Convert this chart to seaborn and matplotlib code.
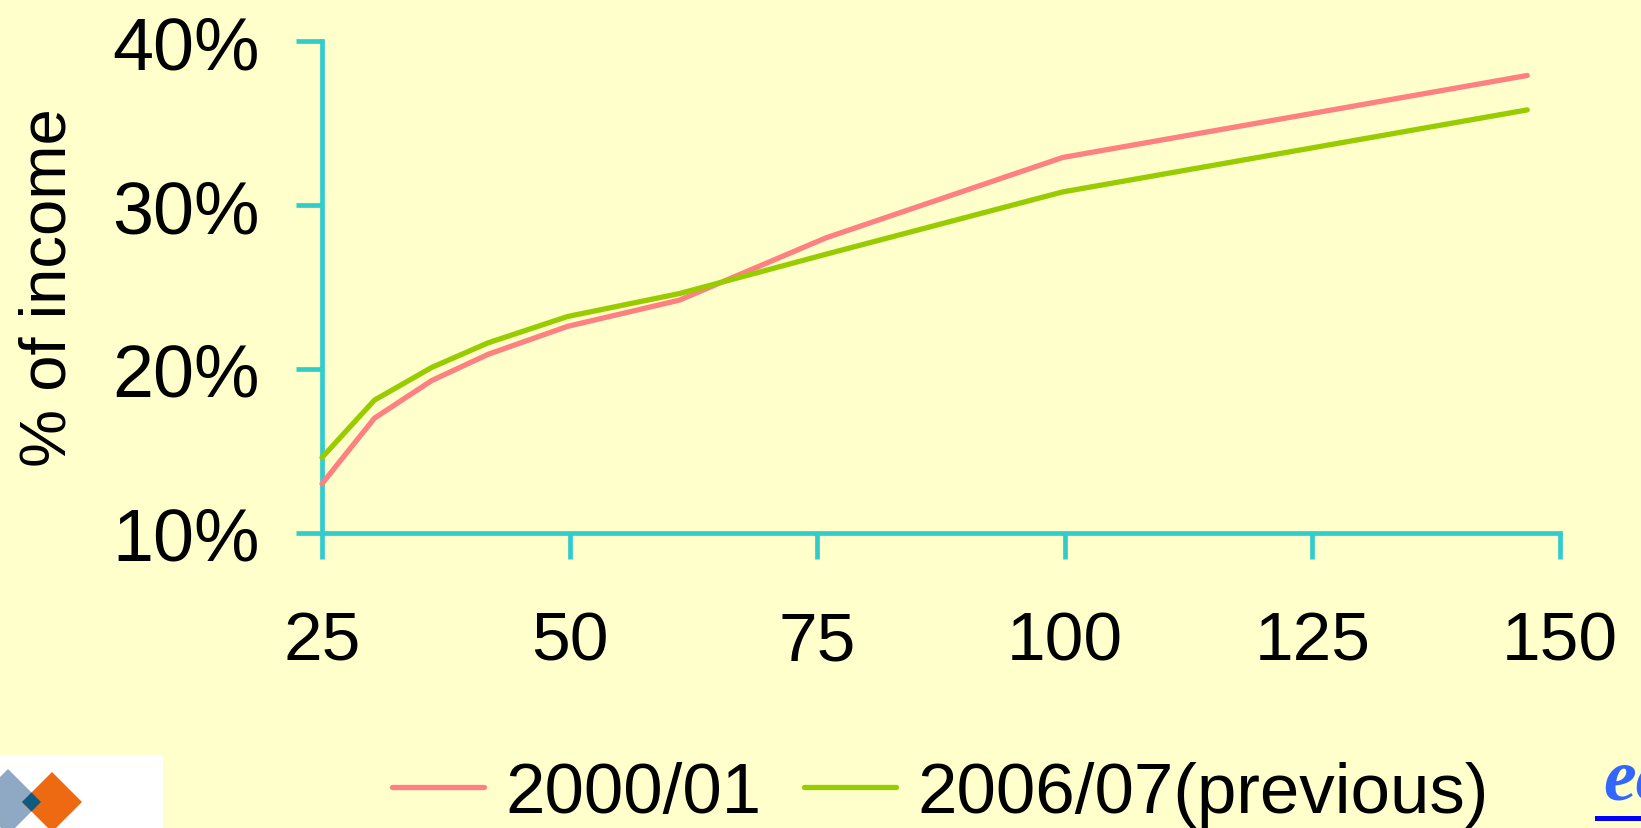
import numpy as np
import pandas as pd
import seaborn as sns
import matplotlib.pyplot as plt
from matplotlib.patches import Polygon, Rectangle

# Share of income by income level, two survey years
income = [25, 30.3, 36.1, 41.8, 49.8, 61.1, 75.9, 99.8, 146.7]
share_2000 = [13.0, 17.0, 19.3, 20.9, 22.6, 24.2, 28.0, 32.9, 37.9]
share_2006 = [14.6, 18.1, 20.1, 21.6, 23.2, 24.6, 27.0, 30.8, 35.8]
series_names = ["2000/01", "2006/07(previous)"]
x_ticks = [25, 50, 75, 100, 125, 150]
y_ticks = [10, 20, 30, 40]

BG = "#FFFFCC"
AXIS = "#33CCCC"
palette = {series_names[0]: "#FF8080", series_names[1]: "#99CC00"}

df = pd.DataFrame({
    "income": income * 2,
    "share": share_2000 + share_2006,
    "series": [series_names[0]] * len(income) + [series_names[1]] * len(income),
})

sns.set_theme(style="white")
plt.rcParams["font.family"] = ["Liberation Sans", "DejaVu Sans"]
plt.rcParams["text.color"] = "black"
plt.rcParams["axes.labelcolor"] = "black"
plt.rcParams["xtick.color"] = "black"
plt.rcParams["ytick.color"] = "black"

fig = plt.figure(figsize=(16.41, 8.29), dpi=100, facecolor=BG)
ax = fig.add_axes([0.1962, 0.3559, 0.7544, 0.5934])
ax.set_facecolor(BG)

sns.lineplot(data=df, x="income", y="share", hue="series", palette=palette,
             linewidth=3.8, ax=ax, legend=True, sort=False, clip_on=False)

ax.set_xlim(25, 150)
ax.set_ylim(10, 40)
ax.set_xticks(x_ticks)
ax.set_yticks(y_ticks)
ax.set_xticklabels([str(t) for t in x_ticks])
ax.set_yticklabels([f"{t}%" for t in y_ticks])
ax.set_xlabel("")
ax.set_ylabel("% of income", fontsize=47, labelpad=24)

for side in ("top", "right"):
    ax.spines[side].set_visible(False)
for side in ("left", "bottom"):
    ax.spines[side].set_color(AXIS)
    ax.spines[side].set_linewidth(3.4)
    ax.spines[side].set_zorder(1)

ax.tick_params(axis="y", direction="out", length=19, width=3.4, color=AXIS,
               labelcolor="black", labelsize=53, pad=26, left=True)
ax.tick_params(axis="x", direction="out", length=19, width=3.4, color=AXIS,
               labelcolor="black", labelsize=50, pad=36, bottom=True)

handles, labels = ax.get_legend_handles_labels()
leg = ax.legend(handles, labels, loc="center", bbox_to_anchor=(0.573, 0.041),
                bbox_transform=fig.transFigure, ncol=2, frameon=False,
                fontsize=51, handlelength=1.3, handletextpad=0.3, columnspacing=0.6)
for t in leg.get_texts():
    t.set_color("black")
for h in leg.get_lines():
    h.set_linewidth(3.8)

# Decorations: logo block at bottom left and link text at bottom right
deco = fig.add_axes([0, 0, 1, 1], zorder=-1)
deco.set_xlim(0, 1641)
deco.set_ylim(829, 0)
deco.axis("off")
deco.add_patch(Rectangle((0, 756), 163, 73, facecolor="white", edgecolor="none"))

def diamond(cx, cy, h):
    return [(cx - h, cy), (cx, cy - h), (cx + h, cy), (cx, cy + h)]

deco.add_patch(Polygon(diamond(8, 803, 33), facecolor="#8FA9C4", edgecolor="none"))
deco.add_patch(Polygon(diamond(52, 803, 30), facecolor="#EE6A12", edgecolor="none"))
# overlap of the two squares
deco.add_patch(Polygon([(22, 803), (31.5, 793.5), (41, 803), (31.5, 812.5)],
                       facecolor="#0E5A80", edgecolor="none"))

fig.text(1603 / 1641, 1 - 800 / 829, "ec", fontsize=53, color="#3366FF",
         family="Liberation Serif", style="italic", weight="bold",
         ha="left", va="baseline")
deco.add_patch(Rectangle((1595, 817), 60, 5, facecolor="#0000FF", edgecolor="none",
                         clip_on=False))

fig.savefig("out.png", dpi=100, facecolor=BG)
